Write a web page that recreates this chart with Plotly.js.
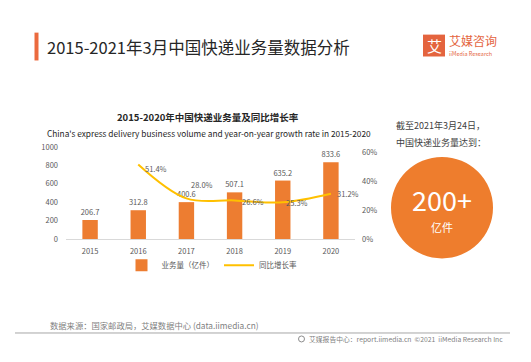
<!DOCTYPE html>
<html>
<head>
<meta charset="utf-8">
<script src="https://cdn.plot.ly/plotly-3.0.1.min.js"></script>
<style>html,body{margin:0;padding:0;background:#fff;}#chart{width:531px;height:362px;}</style>
</head>
<body>
<div id="chart"></div>
<script>
// ---- data ----
const years = ['2015', '2016', '2017', '2018', '2019', '2020'];
const volume = [206.7, 312.8, 400.6, 507.1, 635.2, 833.6];
const growthYears = ['2016', '2017', '2018', '2019', '2020'];
const growth = [51.4, 28.0, 26.6, 25.3, 31.2];
const leftTicks = [0, 200, 400, 600, 800, 1000];
const rightTicks = [0, 20, 40, 60];

// ---- layout helpers (pixel -> paper) ----
const L = 66, R = 355, T = 147, B = 239.5;
const px = x => (x - L) / (R - L);
const py = y => (B - y) / (B - T);
const FONT = '"Noto Sans CJK SC", "Noto Sans", sans-serif';
const GRAY = '#595959';

function ann(text, x, y, size, color, xanchor, extra) {
  return Object.assign({
    text: text, xref: 'paper', yref: 'paper', x: px(x), y: py(y),
    xanchor: xanchor || 'left', yanchor: 'middle', showarrow: false,
    font: {family: FONT, size: size, color: color}
  }, extra || {});
}

// label offsets for the growth-rate line (pixels)
const growthLabelShift = [[5, -4], [3, 14], [5, -1], [1, 0], [4, 0]];
const growthLabels = growth.map((v, i) => ({
  text: v.toFixed(1) + '%', xref: 'x', yref: 'y2', x: years.indexOf(growthYears[i]), y: v,
  xanchor: 'left', yanchor: 'middle', showarrow: false,
  xshift: growthLabelShift[i][0], yshift: growthLabelShift[i][1],
  font: {family: FONT, size: 7.5, color: GRAY}
}));

const bars = {
  type: 'bar', name: '业务量（亿件）', x: years, y: volume, yaxis: 'y',
  width: 0.32, marker: {color: '#ED7D31'},
  text: volume.map(v => v.toFixed(1)), textposition: 'outside', constraintext: 'none',
  textfont: {family: FONT, size: 7.5, color: GRAY}, cliponaxis: false,
  hoverinfo: 'x+y'
};
const line = {
  type: 'scatter', mode: 'lines', name: '同比增长率', x: growthYears, y: growth,
  yaxis: 'y2', line: {color: '#FFC000', width: 2, shape: 'spline'}, cliponaxis: false
};

const layout = {
  width: 531, height: 362, autosize: false,
  margin: {l: L, r: 531 - R, t: T, b: 362 - B, pad: 0},
  paper_bgcolor: '#ffffff', plot_bgcolor: 'rgba(0,0,0,0)',
  font: {family: FONT, size: 7.5, color: GRAY},
  showlegend: true,
  legend: {orientation: 'h', x: px(212), xanchor: 'center', y: py(266), yanchor: 'middle',
           font: {family: FONT, size: 7.5, color: GRAY}, itemwidth: 30, bgcolor: 'rgba(0,0,0,0)'},
  xaxis: {type: 'category', categoryorder: 'array', categoryarray: years, range: [-0.5, years.length - 0.5],
          showline: true, linecolor: '#D9D9D9', linewidth: 1, showgrid: false, zeroline: false,
          ticks: '', ticklabelstandoff: 5, tickfont: {family: FONT, size: 7.5, color: GRAY}, fixedrange: true},
  yaxis: {range: [0, 1000], tickvals: leftTicks, showgrid: false, zeroline: false,
          showline: false, ticks: '', ticklabelstandoff: 7,
          tickfont: {family: FONT, size: 7.5, color: GRAY}, fixedrange: true},
  yaxis2: {overlaying: 'y', side: 'right', range: [0, 63.4], tickvals: rightTicks,
           ticktext: rightTicks.map(v => v + '%'), showgrid: false, zeroline: false,
           showline: false, ticks: '', ticklabelstandoff: 6,
           tickfont: {family: FONT, size: 7.5, color: GRAY}, fixedrange: true},
  shapes: [
    {type: 'rect', xref: 'paper', yref: 'paper', x0: px(34.5), x1: px(38.5), y0: py(60), y1: py(32),
     fillcolor: '#EB6A3E', line: {width: 0}},
    {type: 'rect', xref: 'paper', yref: 'paper', x0: px(423), x1: px(445), y0: py(56), y1: py(34),
     fillcolor: '#E4643E', line: {width: 0}},
    {type: 'circle', xref: 'paper', yref: 'paper', x0: px(391), x1: px(493), y0: py(259), y1: py(157),
     fillcolor: '#EE7D2D', line: {width: 0}},
    {type: 'line', xref: 'paper', yref: 'paper', x0: px(15), x1: px(510), y0: py(334), y1: py(334),
     line: {color: '#A6A6A6', width: 1}},
    {type: 'circle', xref: 'paper', yref: 'paper', x0: px(298.5), x1: px(304.5), y0: py(343), y1: py(337),
     fillcolor: 'rgba(0,0,0,0)', line: {color: '#8C8C8C', width: 1}}
  ],
  annotations: [
    ann('2015-2021年3月中国快递业务量数据分析', 45, 46, 16.5, '#262626', 'left'),
    ann('艾', 434, 45, 15, '#ffffff', 'center'),
    ann('艾媒咨询', 447, 40, 12, '#E4643E', 'left'),
    ann('iiMedia Research', 447, 53, 5.5, '#E4643E', 'left'),
    ann('<b>2015-2020年中国快递业务量及同比增长率</b>', 208, 117, 9.5, '#262626', 'center'),
    ann("China's express delivery business volume and year-on-year growth rate in 2015-2020", 209, 133, 8.3, '#262626', 'center'),
    ann('截至2021年3月24日，', 394, 125, 9, '#404040', 'left'),
    ann('中国快递业务量达到：', 394, 142, 9, '#404040', 'left'),
    ann('200+', 442, 200, 27, '#ffffff', 'center'),
    ann('亿件', 442, 227, 11, '#ffffff', 'center'),
    ann('数据来源：国家邮政局，艾媒数据中心 (data.iimedia.cn)', 48, 326, 8.3, '#7F7F7F', 'left'),
    ann('艾媒报告中心：report.iimedia.cn  ©2021  iiMedia Research Inc', 307, 340, 6.8, '#7F7F7F', 'left')
  ].concat(growthLabels)
};

Plotly.newPlot('chart', [bars, line], layout, {displayModeBar: false, staticPlot: true});
</script>
</body>
</html>
